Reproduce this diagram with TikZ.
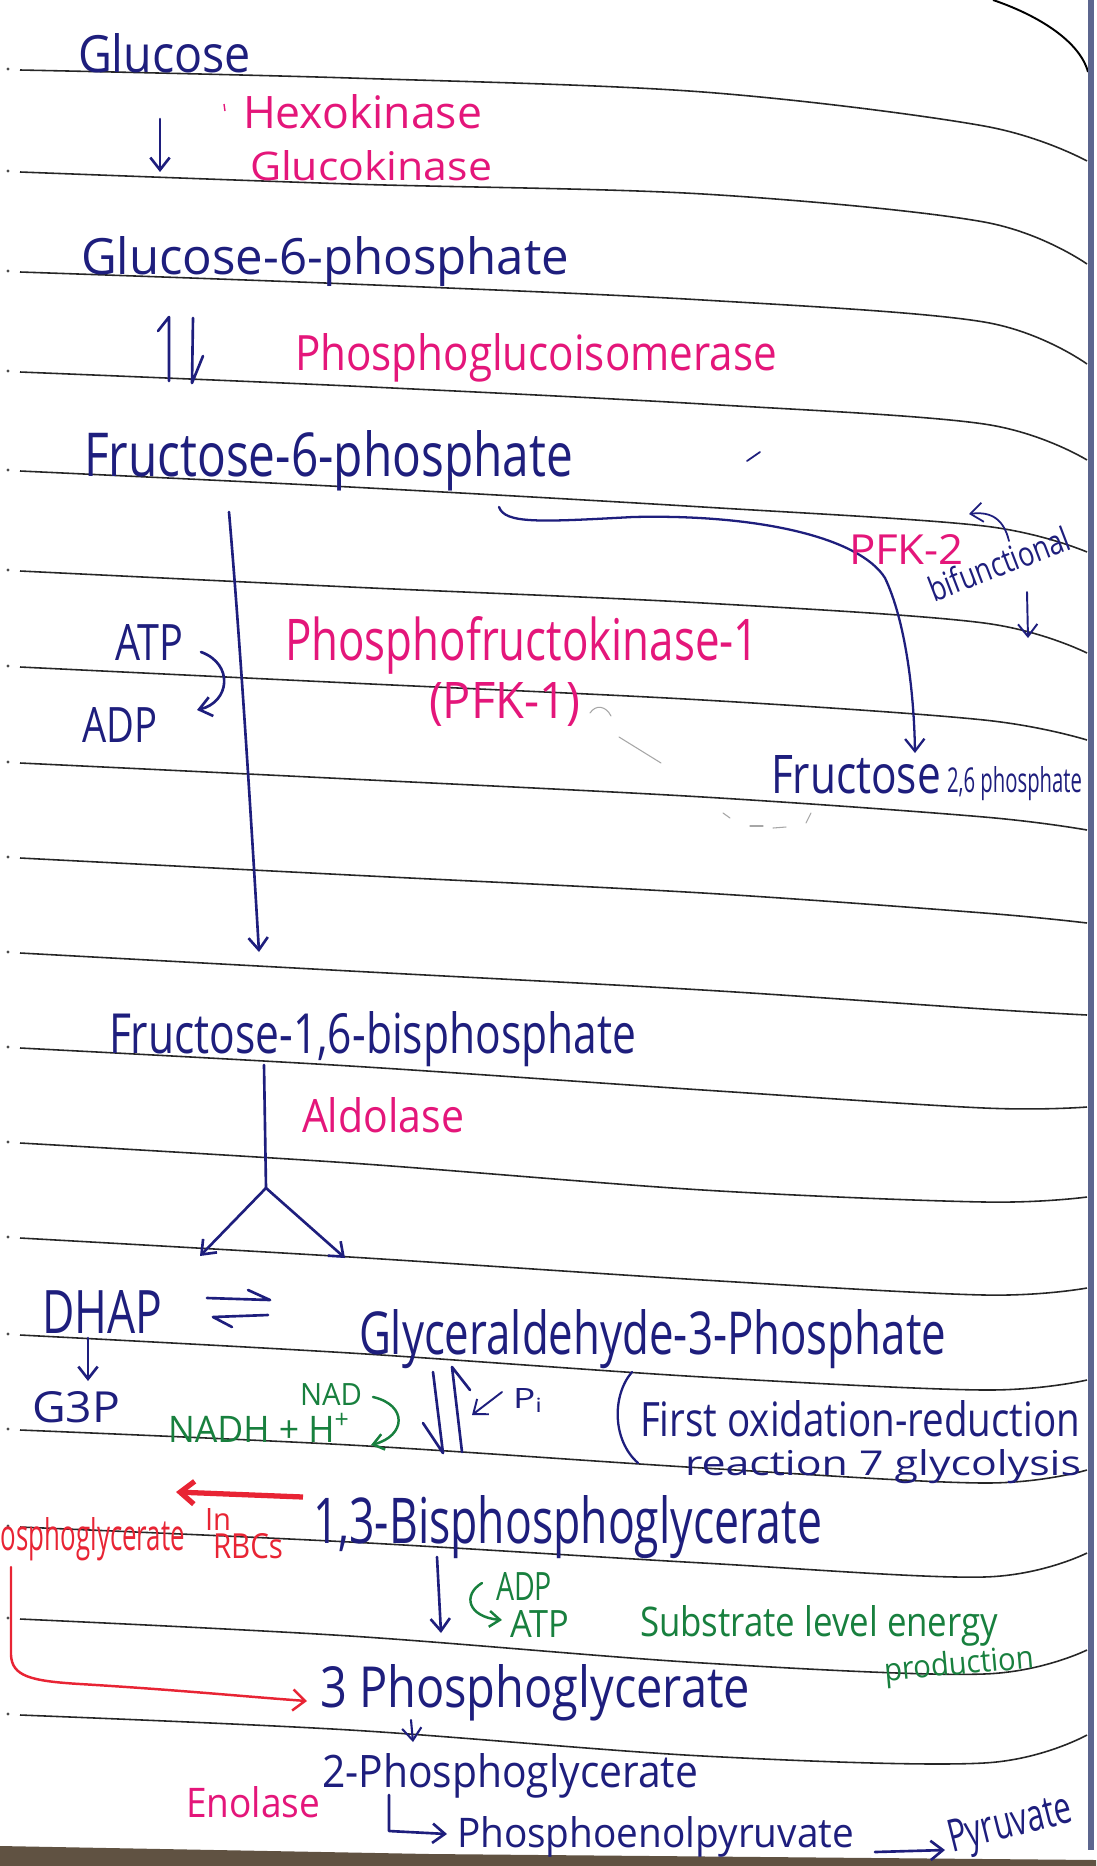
\documentclass[tikz,border=0pt]{standalone}
\usepackage{fontspec}
\setmainfont{Open Sans}[FakeStretch=0.8]
\usepackage{graphicx}
\usetikzlibrary{arrows.meta}
\definecolor{navyink}{RGB}{30,30,125}
\definecolor{pinkink}{RGB}{228,22,122}
\definecolor{greenink}{RGB}{24,128,62}
\definecolor{redink}{RGB}{232,36,52}
\definecolor{edgeblue}{RGB}{92,102,142}
\definecolor{tablebrown}{RGB}{96,82,66}
\newlength\unitpx
\setlength\unitpx{0.02cm}
% handwriting box: width, height above the baseline, text
\def\hw#1#2#3{\resizebox{#1\unitpx}{#2\unitpx}{#3}}
\tikzset{
	hand/.style={anchor=base west, inner sep=0pt, outer sep=0pt, font=\fontsize{20}{24}\selectfont},
	blueink/.style={hand, text=navyink},
	pinkinktext/.style={hand, text=pinkink},
	greeninktext/.style={hand, text=greenink},
	redinktext/.style={hand, text=redink},
	ruling/.style={black!85, line width=0.9pt},
	inkline/.style={navyink, line width=1.5pt, line cap=round, line join=round},
	inkarrow/.style={inkline, -{Straight Barb[length=7pt,width=11pt]}},
	greenarrow/.style={greenink, line width=1.4pt, line cap=round, -{Straight Barb[length=6pt,width=9pt]}},
	pencil/.style={black!35, line width=0.6pt, line cap=round}
}

\begin{document}
\begin{tikzpicture}[x=0.02cm, y=-0.02cm]
	%%%%% START %%%%%
	\useasboundingbox (0,0) rectangle (1096,1866);
	\fill[white] (0,0) rectangle (1096,1866);

	% ruled lines of the page
	\foreach \y/\s/\a/\b/\e in {70/8/22/56/91, 172/12/22/50/92, 272/12/28/50/92, 372/14/32/52/88,
		471/16/36/55/81, 571/16/32/52/82, 667/16/33/53/73, 763/16/34/54/67, 858/17/35/55/65,
		953/18/37/56/62, 1048/18/42/60/59, 1143/20/47/59/54, 1238/19/42/57/50, 1335/18/42/55/45,
		1430/15/38/53/40, 1527/15/36/50/26, 1619/17/44/55/31, 1715/15/41/48/20}{
		\draw[ruling] plot[smooth, tension=0.55] coordinates {(20,\y) (350,\y+\s) (703,\y+\a) (984,\y+\b) (1087,\y+\e)};
		\fill[black!70] (8,\y-1) circle (1.6);
	}

	% page corner, edge and table
	\draw[black, line width=1.1pt] (993,0) .. controls (1040,16) and (1080,42) .. (1088,72);
	\fill[edgeblue] (1088,0) rectangle (1094,1850);
	\fill[tablebrown] (0,1846) -- (430,1854) -- (1096,1860) -- (1096,1866) -- (0,1866) -- cycle;

	% glucose to fructose-6-phosphate
	\node[blueink] (glc) at (78,72) {\hw{173}{39}{Glucose}};
	\node[pinkinktext] (hk) at (243,128) {\hw{239}{34}{Hexokinase}};
	\node[pinkinktext] (gk) at (250,180) {\hw{242}{30}{Glucokinase}};
	\draw[pinkink, line width=0.8pt] (224,104) -- (225,111);
	\coordinate (hka) at (160,119);
	\coordinate (hkb) at (160,172);
	\draw[inkarrow] (hka) -- (hkb);
	\node[blueink] (g6p) at (81,274) {\hw{488}{38}{Glucose-6-phosphate}};
	\draw[inkline] (169,381) -- (169,317) -- (158,331);
	\draw[inkline] (193,318) -- (192,383) -- (203,356);
	\node[pinkinktext] (pgi) at (295,370) {\hw{482}{37}{Phosphoglucoisomerase}};
	\node[blueink] (f6p) at (84,476) {\hw{489}{46}{Fructose-6-phosphate}};
	\draw[inkline, line width=1pt] (747,461) -- (760,452);

	% PFK-1 step
	\coordinate (pfka) at (229,512);
	\coordinate (pfkb) at (259,952);
	\draw[inkarrow] (pfka) .. controls (240,640) and (250,800) .. (pfkb);
	\node[blueink] (atp1) at (115,660) {\hw{68}{36}{ATP}};
	\node[blueink] (adp1) at (82,742) {\hw{75}{35}{ADP}};
	\coordinate (atpa) at (201,652);
	\coordinate (atpb) at (197,710);
	\draw[inkarrow] (atpa) .. controls (234,664) and (230,702) .. (atpb);
	\node[pinkinktext] (pfk1) at (285,660) {\hw{474}{44}{Phosphofructokinase-1}};
	\node[pinkinktext] (pfk1ab) at (429,718) {\hw{151}{36}{(PFK-1)}};
	\draw[pencil] (590,713) .. controls (596,704) and (606,706) .. (611,716);
	\draw[pencil] (619,737) -- (661,763);

	% PFK-2 branch
	\coordinate (pfk2a) at (499,507);
	\coordinate (pfk2b) at (915,753);
	\draw[inkarrow, line width=1.3pt] (pfk2a) .. controls (505,524) and (540,522) .. (633,517)
		.. controls (760,514) and (860,538) .. (885,578) .. controls (905,620) and (914,690) .. (pfk2b);
	\node[pinkinktext] (pfk2) at (849,564) {\hw{115}{30}{PFK-2}};
	\node[blueink, rotate=21] (bif) at (934,602) {\hw{149}{26}{bifunctional}};
	\coordinate (bifa) at (1009,541);
	\coordinate (bifb) at (969,514);
	\draw[inkarrow, line width=1pt] (bifa) .. controls (1004,520) and (992,511) .. (bifb);
	\coordinate (bifc) at (1027,592);
	\coordinate (bifd) at (1028,638);
	\draw[inkarrow, line width=1.1pt] (bifc) -- (bifd);
	\draw[pencil] (723,813) -- (730,818);
	\draw[pencil] (750,826) -- (763,826);
	\draw[pencil] (773,828) -- (786,827);
	\draw[pencil] (806,823) -- (811,813);
	\node[blueink] (f26) at (771,793) {\hw{170}{38}{Fructose}};
	\node[blueink] (f26b) at (947,792) {\hw{135}{26}{2,6 phosphate}};

	% aldolase split
	\node[blueink] (f16) at (109,1053) {\hw{527}{42}{Fructose-1,6-bisphosphate}};
	\node[pinkinktext] (ald) at (302,1132) {\hw{162}{35}{Aldolase}};
	\coordinate (alda) at (264,1065);
	\coordinate (aldm) at (266,1188);
	\coordinate (aldl) at (200,1256);
	\coordinate (aldr) at (345,1258);
	\draw[inkline] (alda) -- (aldm);
	\draw[inkarrow] (aldm) -- (aldl);
	\draw[inkarrow] (aldm) -- (aldr);

	% triose phosphates
	\node[blueink] (dhap) at (42,1333) {\hw{120}{43}{DHAP}};
	\draw[inkline] (207,1298) -- (270,1300) -- (248,1290);
	\draw[inkline] (268,1315) -- (213,1317) -- (232,1327);
	\node[blueink] (gap) at (359,1354) {\hw{587}{45}{Glyceraldehyde-3-Phosphate}};
	\coordinate (dhapa) at (88,1338);
	\coordinate (dhapb) at (88,1381);
	\draw[inkarrow] (dhapa) -- (dhapb);
	\node[blueink] (g3p) at (32,1422) {\hw{88}{31}{G3P}};
	\node[greeninktext] (nad) at (300,1405) {\hw{62}{22}{NAD}};
	\node[greeninktext] (nadh) at (168,1442) {\hw{182}{29}{NADH + H\textsuperscript{+}}};
	\coordinate (nada) at (373,1397);
	\coordinate (nadb) at (371,1445);
	\draw[greenarrow] (nada) .. controls (408,1405) and (406,1436) .. (nadb);
	\draw[inkline] (433,1372) -- (443,1453) -- (423,1423);
	\draw[inkline] (462,1452) -- (452,1367) -- (470,1390);
	\coordinate (pia) at (502,1392);
	\coordinate (pib) at (472,1415);
	\draw[inkarrow, line width=1.1pt] (pia) -- (pib);
	\node[blueink] (pi) at (513,1408) {\hw{30}{20}{P\textsubscript{i}}};
	\draw[inkline, line width=1.3pt] (632,1372) .. controls (612,1395) and (612,1440) .. (638,1463);
	\node[blueink] (note1) at (640,1436) {\hw{440}{36}{First oxidation-reduction}};
	\node[blueink] (note2) at (685,1475) {\hw{396}{26}{reaction 7 glycolysis}};

	% 1,3-bisphosphoglycerate and the RBC shunt
	\node[blueink] (bpg) at (313,1543) {\hw{509}{48}{1,3-Bisphosphoglycerate}};
	\coordinate (rbca) at (303,1497);
	\coordinate (rbcb) at (176,1492);
	\draw[redink, line width=3pt, -{Straight Barb[length=8pt,width=13pt]}] (rbca) -- (rbcb);
	\node[redinktext] (dpg) at (1,1550) {\hw{184}{33}{osphoglycerate}};
	\node[redinktext] (inrbc) at (205,1530) {\hw{26}{22}{In}};
	\node[redinktext] (rbc) at (213,1558) {\hw{70}{25}{RBCs}};
	\coordinate (shunta) at (11,1567);
	\coordinate (shuntb) at (307,1701);
	\draw[redink, line width=1.4pt, line cap=round, -{Straight Barb[length=7pt,width=12pt]}] (shunta) -- (11,1655)
		.. controls (12,1676) and (30,1681) .. (80,1684) .. controls (180,1690) and (250,1697) .. (shuntb);

	% substrate level phosphorylation
	\coordinate (bpga) at (437,1557);
	\coordinate (bpgb) at (441,1633);
	\draw[inkarrow] (bpga) -- (bpgb);
	\node[greeninktext] (adp2) at (496,1600) {\hw{56}{28}{ADP}};
	\node[greeninktext] (atp2) at (510,1637) {\hw{59}{27}{ATP}};
	\coordinate (adpa) at (482,1583);
	\coordinate (adpb) at (502,1620);
	\draw[greenarrow] (adpa) .. controls (462,1595) and (468,1617) .. (adpb);
	\node[greeninktext] (slp) at (640,1636) {\hw{358}{31}{Substrate level energy}};
	\node[greeninktext, rotate=5] (prod) at (885,1681) {\hw{150}{24}{production}};

	% lower half of the pathway
	\node[blueink] (pg3) at (320,1707) {\hw{430}{43}{3 Phosphoglycerate}};
	\coordinate (pg3a) at (411,1720);
	\coordinate (pg3b) at (413,1742);
	\draw[inkarrow, line width=1.2pt] (pg3a) -- (pg3b);
	\node[blueink] (pg2) at (322,1787) {\hw{376}{34}{2-Phosphoglycerate}};
	\node[pinkinktext] (eno) at (186,1817) {\hw{134}{31}{Enolase}};
	\coordinate (enoa) at (389,1795);
	\coordinate (enob) at (447,1834);
	\draw[inkarrow] (enoa) -- (389,1831) -- (enob);
	\node[blueink] (pep) at (457,1847) {\hw{397}{31}{Phosphoenolpyruvate}};
	\coordinate (pepa) at (875,1852);
	\coordinate (pepb) at (945,1850);
	\draw[inkarrow] (pepa) -- (pepb);
	\node[blueink, rotate=14] (pyr) at (952,1852) {\hw{126}{32}{Pyruvate}};
	%%%%% END %%%%%
\end{tikzpicture}
\end{document}
